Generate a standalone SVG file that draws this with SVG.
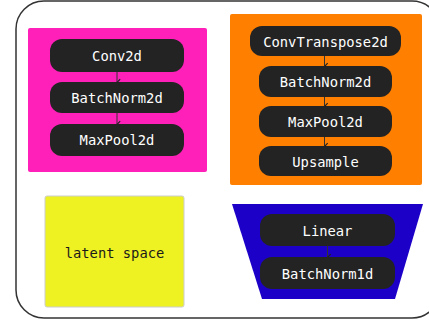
<svg xmlns="http://www.w3.org/2000/svg" width="429" height="320" viewBox="0 0 429 320">
<defs>
<style>
.node rect{fill:#232323}
.node text{fill:#ffffff;font-family:"DejaVu Sans Mono","Liberation Mono",monospace;font-size:13.8px;text-anchor:middle;dominant-baseline:central}
.lbl{fill:#1a1a1a;font-family:"DejaVu Sans Mono","Liberation Mono",monospace;font-size:13.8px;text-anchor:middle;dominant-baseline:central}
.conn line{stroke:#333;stroke-width:1;marker-end:url(#ah)}
</style>
<marker id="ah" viewBox="0 0 10 10" refX="5" refY="9" markerWidth="8" markerHeight="8" orient="auto" markerUnits="userSpaceOnUse">
<path d="M1.5,5 L5,8.5 L8.5,5" fill="none" stroke="#222" stroke-width="1.5"/>
</marker>
</defs>
<rect x="16" y="1" width="424" height="317" rx="28" fill="#ffffff" stroke="#333" stroke-width="1.5"/>
<g id="encoder"><rect x="28" y="28" width="179" height="144" rx="2" fill="#ff20b9"/></g>
<g id="decoder"><rect x="230" y="14" width="192" height="171" rx="2" fill="#ff7f00"/></g>
<g id="latent"><rect x="45" y="196" width="139" height="111" rx="2" fill="#eef222" stroke="#cccccc" stroke-width="1"/><text class="lbl" x="114.5" y="253">latent space</text></g>
<g id="bottleneck"><polygon points="232,204 423,204 395,299 262,299" fill="#1c00c8"/></g>
<g id="conv2d" class="node"><rect x="50" y="39" width="134" height="33" rx="12"/><text x="117" y="56">Conv2d</text></g>
<g id="batchnorm2d_a" class="node"><rect x="50" y="82" width="134" height="31" rx="12"/><text x="117" y="98">BatchNorm2d</text></g>
<g id="maxpool2d_a" class="node"><rect x="50" y="124" width="134" height="32" rx="12"/><text x="117" y="140">MaxPool2d</text></g>
<g id="convtranspose2d" class="node"><rect x="250" y="26" width="151" height="30" rx="12"/><text x="325.5" y="41.5">ConvTranspose2d</text></g>
<g id="batchnorm2d_b" class="node"><rect x="259" y="66" width="133" height="31" rx="12"/><text x="325.5" y="82">BatchNorm2d</text></g>
<g id="maxpool2d_b" class="node"><rect x="259" y="106" width="133" height="31" rx="12"/><text x="325.5" y="122">MaxPool2d</text></g>
<g id="upsample" class="node"><rect x="259" y="146" width="133" height="30" rx="12"/><text x="325.5" y="161.5">Upsample</text></g>
<g id="linear" class="node"><rect x="260" y="214" width="135" height="32" rx="12"/><text x="327.5" y="230.5">Linear</text></g>
<g id="batchnorm1d" class="node"><rect x="260" y="257" width="135" height="32" rx="12"/><text x="327.5" y="273.5">BatchNorm1d</text></g>
<g id="connectors" class="conn">
<line x1="117" y1="72" x2="117" y2="82"/>
<line x1="117" y1="113" x2="117" y2="124"/>
<line x1="324.5" y1="56" x2="324.5" y2="66"/>
<line x1="324.5" y1="97" x2="324.5" y2="106"/>
<line x1="324.5" y1="137" x2="324.5" y2="146"/>
<line x1="327.5" y1="246" x2="327.5" y2="257"/>
</g>
</svg>
